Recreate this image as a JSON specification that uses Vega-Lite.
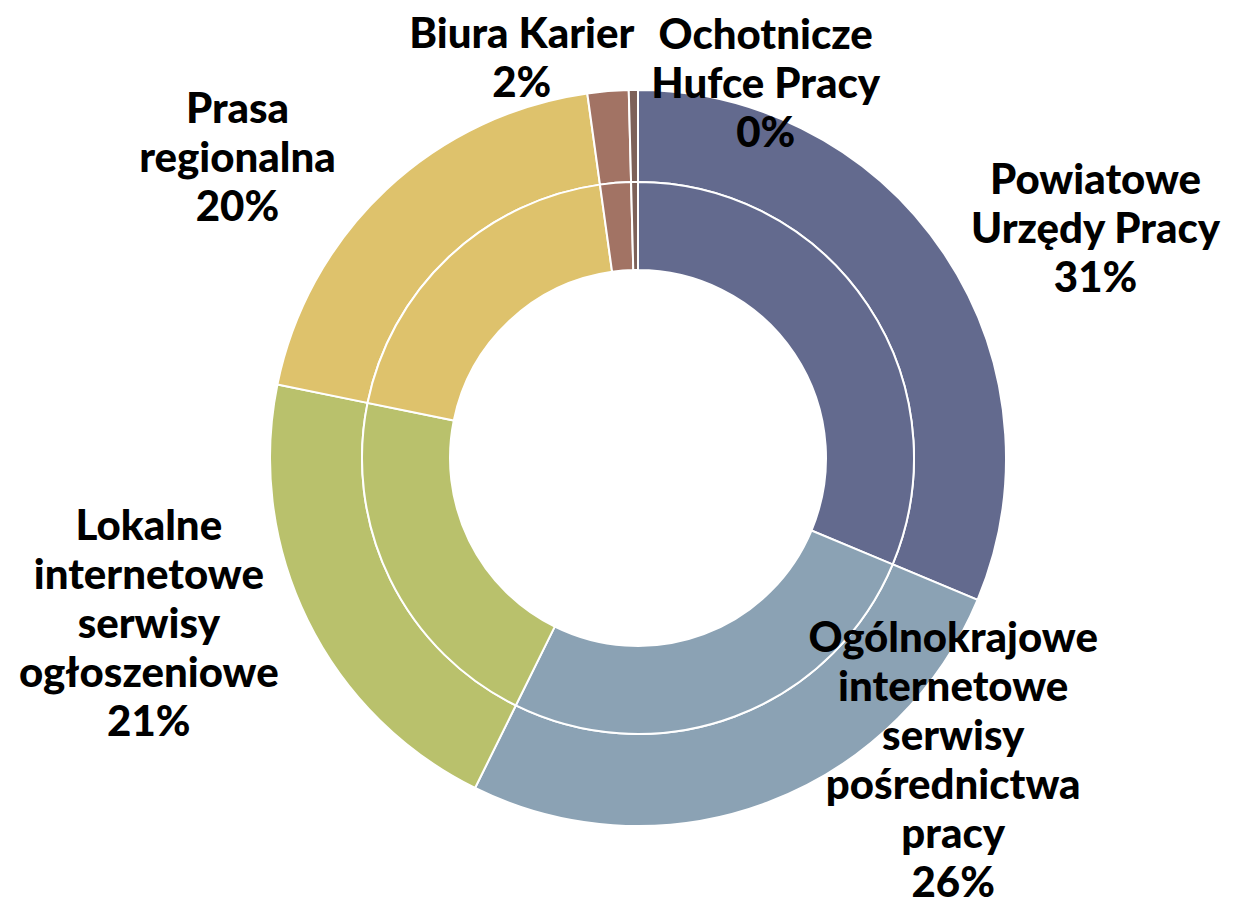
{
  "$schema": "https://vega.github.io/schema/vega-lite/v6.json",
  "width": 1196,
  "height": 882,
  "autosize": {"type": "none"},
  "padding": {"left": 40, "top": 17, "right": 0, "bottom": 0},
  "background": "white",
  "view": {"stroke": null},
  "data": {
    "values": [
      {"source": "Powiatowe Urzędy Pracy", "label": "Powiatowe\nUrzędy Pracy\n31%", "share": 31.3, "rank": 1},
      {"source": "Ogólnokrajowe internetowe serwisy pośrednictwa pracy", "label": "Ogólnokrajowe\ninternetowe\nserwisy\npośrednictwa\npracy\n26%", "share": 26.0, "rank": 2},
      {"source": "Lokalne internetowe serwisy ogłoszeniowe", "label": "Lokalne\ninternetowe\nserwisy\nogłoszeniowe\n21%", "share": 20.9, "rank": 3},
      {"source": "Prasa regionalna", "label": "Prasa\nregionalna\n20%", "share": 19.6, "rank": 4},
      {"source": "Biura Karier", "label": "Biura Karier\n2%", "share": 1.8, "rank": 5},
      {"source": "Ochotnicze Hufce Pracy", "label": "Ochotnicze\nHufce Pracy\n0%", "share": 0.4, "rank": 6}
    ]
  },
  "encoding": {
    "theta": {"field": "share", "type": "quantitative", "stack": true},
    "order": {"field": "rank", "type": "quantitative"}
  },
  "layer": [
    {
      "mark": {"type": "arc", "radius": 368, "radius2": 276, "stroke": "white", "strokeWidth": 2},
      "encoding": {
        "color": {
          "field": "source", "type": "nominal", "legend": null,
          "scale": {
            "domain": ["Powiatowe Urzędy Pracy", "Ogólnokrajowe internetowe serwisy pośrednictwa pracy", "Lokalne internetowe serwisy ogłoszeniowe", "Prasa regionalna", "Biura Karier", "Ochotnicze Hufce Pracy"],
            "range": ["#636A8E", "#8BA2B4", "#B9C16C", "#DEC26C", "#A27364", "#7D6159"]
          }
        }
      }
    },
    {
      "mark": {"type": "arc", "radius": 276, "radius2": 188, "stroke": "white", "strokeWidth": 2},
      "encoding": {
        "color": {"field": "source", "type": "nominal", "legend": null}
      }
    },
    {
      "mark": {
        "type": "text", "radius": 420, "font": "Lato", "fontSize": 42, "fontWeight": 900,
        "fill": "black", "lineBreak": "\n", "lineHeight": 49, "align": "center", "baseline": "middle",
        "dx": {"expr": "[108, 168, -112, -113, -82, 133][datum.rank - 1]"},
        "dy": {"expr": "[-44, -212, -116, -42, -4, -2][datum.rank - 1]"}
      },
      "encoding": {
        "detail": {"field": "source", "type": "nominal"},
        "text": {"field": "label", "type": "nominal"}
      }
    }
  ]
}
